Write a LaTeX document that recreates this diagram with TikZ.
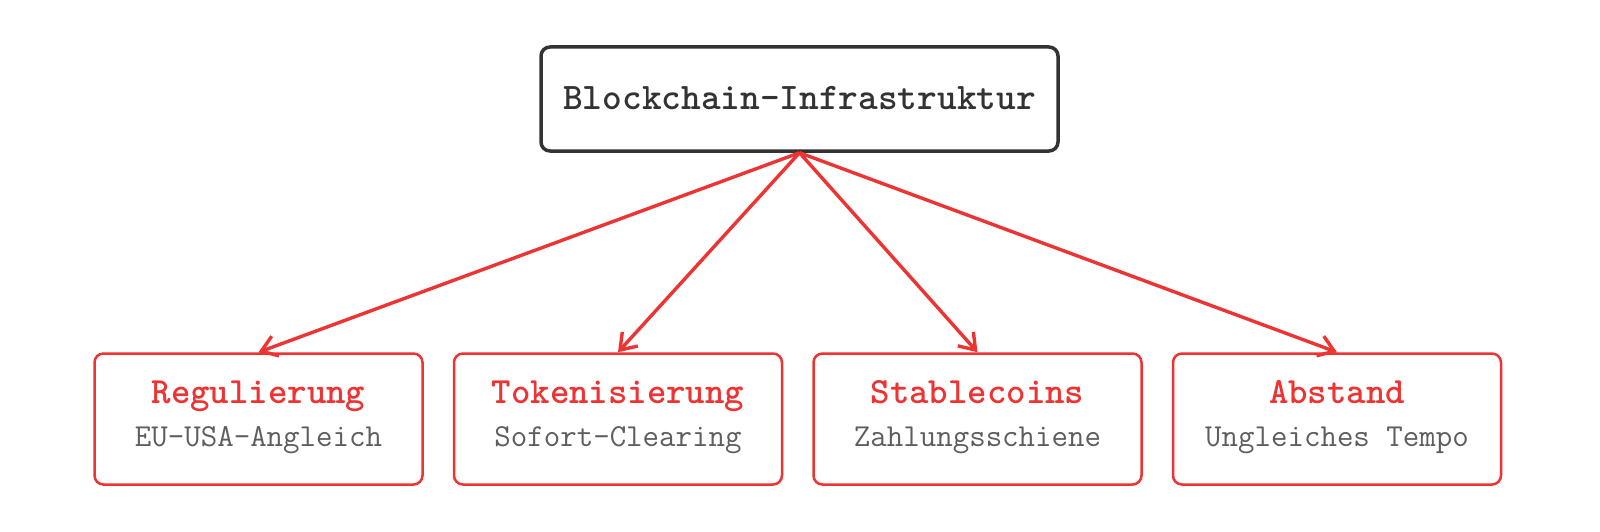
\documentclass[tikz,border=0pt]{standalone}
\usepackage{fontspec}
\usetikzlibrary{arrows.meta}
\definecolor{accent}{HTML}{EE3333}
\definecolor{dark}{HTML}{333333}
\definecolor{sub}{HTML}{5E5E5E}
\tikzset{
  rootbox/.style={draw=dark, line width=3.5pt, rounded corners=9pt, fill=white,
    minimum width=517pt, minimum height=104pt, inner sep=0pt},
  roottext/.style={anchor=base, inner sep=0pt, font=\ttfamily\bfseries\fontsize{37.5}{40}\selectfont, text=dark},
  leafbox/.style={draw=accent, line width=2.5pt, rounded corners=9pt, fill=white,
    minimum width=328pt, minimum height=131pt, inner sep=0pt},
  leaftitle/.style={anchor=base, inner sep=0pt, font=\ttfamily\bfseries\fontsize{37}{40}\selectfont, text=accent},
  leafsub/.style={anchor=base, inner sep=0pt, font=\ttfamily\fontsize{32}{36}\selectfont, text=sub},
  conn/.style={draw=accent, line width=3.4pt, -{Straight Barb[length=15pt,width=21pt,line width=3.4pt]}},
}
\begin{document}
\begin{tikzpicture}[x=1pt,y=-1pt]
\useasboundingbox (0,0) rectangle (1600,532);
\node[rootbox] (root) at (799.5,99) {};
\node[roottext] (roott) at (799.5,110) {Blockchain-Infrastruktur};
\node[leafbox] (a) at (258.5,419) {};
\node[leafbox] (b) at (618,419) {};
\node[leafbox] (c) at (977.5,419) {};
\node[leafbox] (d) at (1337,419) {};
\node[leaftitle] (at) at (258.5,403) {Regulierung};
\node[leafsub] (as) at (258.5,446) {EU-USA-Angleich};
\node[leaftitle] (bt) at (618,403) {Tokenisierung};
\node[leafsub] (bs) at (618,446) {Sofort-Clearing};
\node[leaftitle] (ct) at (977.5,403) {Stablecoins};
\node[leafsub] (cs) at (977.5,446) {Zahlungsschiene};
\node[leaftitle] (dt) at (1337,403) {Abstand};
\node[leafsub] (ds) at (1337,446) {Ungleiches Tempo};
\foreach \t in {a,b,c,d}
  \draw[conn] (root.south) -- (\t.north);
\end{tikzpicture}
\end{document}
